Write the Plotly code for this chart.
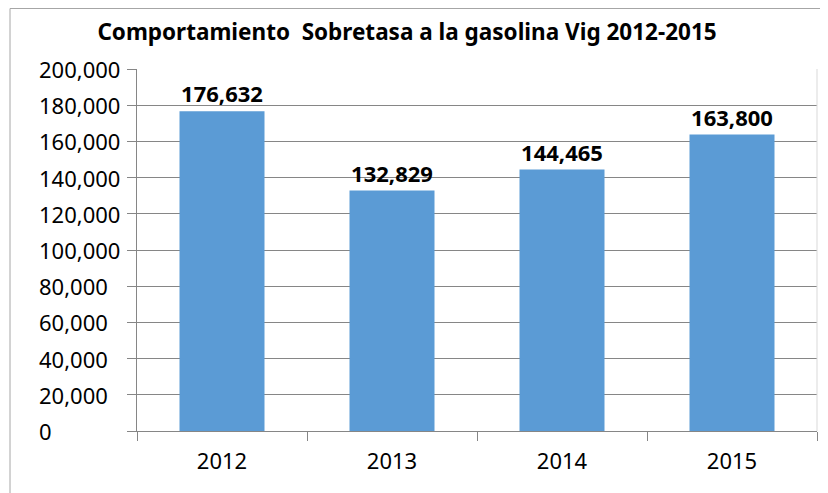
import plotly.graph_objects as go

years = ["2012", "2013", "2014", "2015"]
values = [176632, 132829, 144465, 163800]
title_text = "Comportamiento  Sobretasa a la gasolina Vig 2012-2015"
tick_vals = [0, 20000, 40000, 60000, 80000, 100000, 120000, 140000, 160000, 180000, 200000]

FONT = "Noto Sans, Liberation Sans, sans-serif"

# figure is drawn with an 8px page offset; margins compensate
L, T, R, B = 129, 61, 19, 70
W, H = 828, 493
PW = W - L - R
PH = H - T - B

fig = go.Figure(go.Bar(
    x=years, y=values,
    marker=dict(color="#5B9BD5", line=dict(width=0)),
    width=0.5,
    texttemplate="%{y:,}",
    textposition="outside",
    textfont=dict(family=FONT, size=22, color="black", weight="bold"),
    cliponaxis=False,
))

fig.update_layout(
    width=W, height=H,
    margin=dict(l=L, r=R, t=T, b=B),
    paper_bgcolor="white", plot_bgcolor="white",
    showlegend=False,
    title=dict(text="<b>" + title_text + "</b>", x=(407 - 8) / W, xanchor="center",
               y=1 - 24 / H, yanchor="middle",
               font=dict(family=FONT, size=22.5, color="black")),
    font=dict(family=FONT, size=22, color="black"),
)

fig.update_yaxes(
    range=[0, 200000], tickvals=tick_vals, tickformat=",",
    showticklabels=False,
    showgrid=True, gridcolor="#868686", gridwidth=1,
    showline=True, linecolor="#868686", linewidth=1,
    ticks="outside", ticklen=9, tickcolor="#868686",
    zeroline=False,
)
fig.update_xaxes(
    type="category",
    showline=True, linecolor="#868686", linewidth=1,
    ticks="outside", ticklen=9, tickcolor="#868686",
    tickson="boundaries",
    showgrid=False,
    ticklabelstandoff=11,
    tickfont=dict(family=FONT, size=22, color="black"),
)

# left-aligned y tick labels (as in the original)
for v in tick_vals:
    fig.add_annotation(xref="paper", yref="y", x=(29 - L) / PW, y=v,
                       text=f"{v:,}", showarrow=False, xanchor="left", yanchor="middle",
                       font=dict(family=FONT, size=22, color="black"))

# outer chart frame
fig.add_shape(type="rect", xref="paper", yref="paper",
              x0=(2 - L) / PW, x1=1.2, y0=-0.5, y1=(T + PH - 0.5) / PH,
              line=dict(color="#A6A6A6", width=1), fillcolor="rgba(0,0,0,0)", layer="below")
# light right edge of plot area
fig.add_shape(type="line", xref="paper", yref="paper",
              x0=1, x1=1, y0=0, y1=1,
              line=dict(color="#D9D9D9", width=1))

fig.write_html("out.html")
